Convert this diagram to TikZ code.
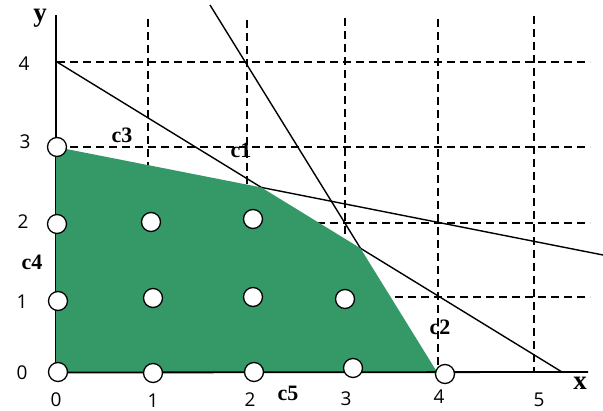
\documentclass[tikz,border=0pt]{standalone}
\usepackage{fontspec}
\setmainfont{Liberation Serif}
\newfontfamily\numfont{Open Sans}
\definecolor{feas}{RGB}{53,153,103}
\begin{document}
\begin{tikzpicture}[x=1pt,y=-1pt,
  gridln/.style={dash pattern=on 8pt off 5pt, line width=1.3pt},
  axisln/.style={line width=1.8pt},
  consln/.style={line width=1.4pt},
  lattice/.style={circle, draw, fill=white, line width=1.3pt, minimum size=19pt, inner sep=0pt},
  clab/.style={font=\bfseries\fontsize{22}{22}\selectfont, inner sep=0pt},
  axlab/.style={font=\bfseries\fontsize{27}{27}\selectfont, inner sep=0pt},
  ticklab/.style={font=\numfont\fontsize{19}{19}\selectfont, inner sep=0pt}]
\useasboundingbox (0,0) rectangle (603,411);
% grid
\draw[gridln] (148,19) -- (148,372);
\draw[gridln] (247,20) -- (247,372);
\draw[gridln] (345,18) -- (345,372);
\draw[gridln] (438,19) -- (438,372);
\draw[gridln] (534,16) -- (534,372);
\draw[gridln] (57,62) -- (590,62);
\draw[gridln] (57,147) -- (590,147);
\draw[gridln] (57,223) -- (590,223);
\draw[gridln] (57,297) -- (590,297);
% constraint lines
\coordinate (A0) at (57,62);  \coordinate (A1) at (562,372);
\coordinate (B0) at (210,5);  \coordinate (B1) at (437,372);
\coordinate (C0) at (57,147); \coordinate (C1) at (603,255);
\coordinate (AC) at (intersection of A0--A1 and C0--C1);
\coordinate (AB) at (intersection of A0--A1 and B0--B1);
\coordinate (O) at (56,372.5);
\coordinate (Ytop) at (56,15);
\coordinate (Xend) at (588,372);
\draw[axisln] (O) -- (Ytop);
\draw[consln] (A0) -- (AC);
\draw[consln] (AB) -- (A1);
\draw[consln] (B0) -- (AB);
\draw[consln] (AC) -- (C1);
% feasible region
\fill[feas] (56,147) -- (AC) -- (AB) -- (B1) -- (O) -- cycle;
\draw[axisln] (O) -- (Xend);
% lattice points
\node[lattice] (p03) at (57,147) {};
\node[lattice] (p02) at (57,224) {};
\node[lattice] (p12) at (151,222) {};
\node[lattice] (p22) at (253,219) {};
\node[lattice] (p01) at (58,301) {};
\node[lattice] (p11) at (153,298) {};
\node[lattice] (p21) at (253,297) {};
\node[lattice] (p31) at (345,299) {};
\node[lattice] (p00) at (58,372) {};
\node[lattice] (p10) at (153,373) {};
\node[lattice] (p20) at (254,372) {};
\node[lattice] (p30) at (353,368) {};
\node[lattice] (p40) at (445,374) {};
% labels
\node[axlab] (ylab) at (40,18) {y};
\node[axlab] (xlab) at (580,383) {x};
\node[clab] (c1) at (241,150) {c1};
\node[clab] (c2) at (440,327) {c2};
\node[clab] (c3) at (122,135) {c3};
\node[clab] (c4) at (32,262) {c4};
\node[clab] (c5) at (288,393) {c5};
\node[ticklab] (ty4) at (24,64) {4};
\node[ticklab] (ty3) at (25,142) {3};
\node[ticklab] (ty2) at (23,222) {2};
\node[ticklab] (ty1) at (22,302) {1};
\node[ticklab] (ty0) at (22,373) {0};
\node[ticklab] (tx0) at (56,400) {0};
\node[ticklab] (tx1) at (153,401) {1};
\node[ticklab] (tx2) at (250,400) {2};
\node[ticklab] (tx3) at (346,399) {3};
\node[ticklab] (tx4) at (439,397) {4};
\node[ticklab] (tx5) at (539,400) {5};
\end{tikzpicture}
\end{document}
